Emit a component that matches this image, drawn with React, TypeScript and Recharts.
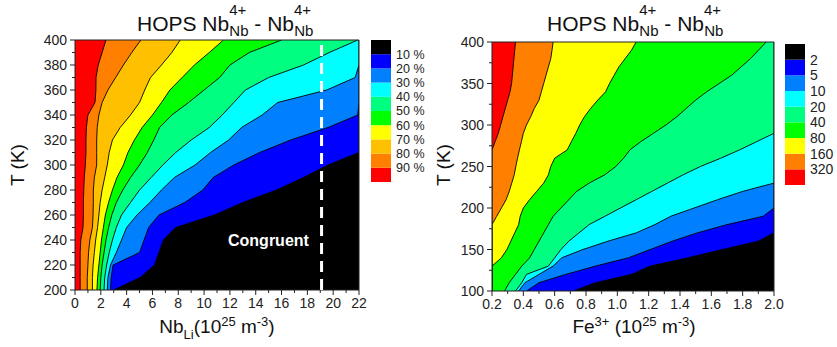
import React from 'react';
import {
  ComposedChart,
  Area,
  XAxis,
  YAxis,
  CartesianGrid,
  ReferenceLine,
  ReferenceArea,
  BarChart,
  Bar,
} from 'recharts';

const FONT = '"Liberation Sans", Arial, sans-serif';

// ---- left panel: Nb_Li position of each contour line for a given T ----
const tLeft = [200, 210, 220, 230, 240, 250, 260, 270, 280, 290, 300, 310, 320, 330, 340, 350, 360, 370, 380, 390, 400];
const nb90 = [0.4, 0.4, 0.4, 0.4, 0.45, 0.62, 0.65, 0.65, 0.68, 0.72, 0.8, 0.85, 0.85, 0.88, 1.0, 1.55, 1.62, 1.63, 1.8, 2.1, 2.4];
const nb80 = [0.95, 0.95, 1.0, 1.05, 1.15, 1.35, 1.4, 1.42, 1.42, 1.5, 1.68, 1.68, 1.68, 1.72, 1.85, 2.1, 2.55, 3.15, 3.75, 4.4, 5.1];
const nb70 = [1.35, 1.35, 1.4, 1.5, 1.6, 1.75, 1.85, 1.95, 2.1, 2.3, 2.5, 2.65, 2.9, 3.5, 4.3, 5.0, 5.4, 5.85, 6.7, 7.5, 8.15];
const nb60 = [1.7, 1.75, 1.85, 1.95, 2.05, 2.2, 2.35, 2.6, 2.9, 3.25, 3.75, 4.1, 4.6, 5.2, 6.0, 6.7, 7.35, 8.3, 9.25, 10.4, 11.5];
const nb50 = [1.95, 2.0, 2.1, 2.25, 2.4, 2.6, 2.85, 3.2, 3.7, 4.3, 5.0, 5.6, 6.1, 6.55, 7.5, 8.8, 10.0, 11.2, 12.0, 13.5, 16.0];
const nb40 = [2.25, 2.3, 2.45, 2.65, 2.9, 3.2, 3.6, 4.3, 5.0, 5.9, 6.8, 7.8, 9.0, 10.4, 11.4, 12.3, 13.2, 15.0, 17.7, 19.7, 21.9];
const nb30 = [2.5, 2.55, 2.75, 3.2, 3.6, 4.0, 4.8, 5.8, 6.7, 7.7, 9.3, 10.5, 11.9, 12.9, 14.5, 15.7, 19.5, 21.7, 22, 22, 22];
const nb20 = [2.75, 2.8, 2.95, 5.0, 5.35, 5.7, 6.5, 8.5, 9.9, 10.7, 12.3, 14.3, 16.7, 19.6, 21.9, 22, 22, 22, 22, 22, 22];
const nb10 = [3.0, 5.05, 6.15, 6.5, 6.85, 7.8, 10.8, 13.0, 15.6, 17.7, 19.6, 22, 22, 22, 22, 22, 22, 22, 22, 22, 22];

// ---- right panel: Fe3+ position of each contour line for a given T ----
const tRight = [100, 110, 120, 130, 140, 150, 160, 170, 180, 190, 200, 210, 220, 230, 240, 250, 260, 270, 280, 290, 300, 310, 320, 330, 340, 350, 360, 370, 380, 390, 400];
const fe320 = [0.2, 0.2, 0.2, 0.2, 0.2, 0.2, 0.2, 0.2, 0.2, 0.2, 0.2, 0.2, 0.2, 0.2, 0.2, 0.2, 0.2, 0.2, 0.22, 0.24, 0.255, 0.27, 0.285, 0.3, 0.315, 0.325, 0.33, 0.335, 0.34, 0.345, 0.35];
const fe160 = [0.2, 0.2, 0.2, 0.2, 0.2, 0.2, 0.2, 0.2, 0.2, 0.23, 0.26, 0.29, 0.31, 0.326, 0.342, 0.352, 0.363, 0.375, 0.388, 0.4, 0.42, 0.447, 0.47, 0.5, 0.515, 0.53, 0.545, 0.56, 0.575, 0.583, 0.59];
const fe80 = [0.2, 0.2, 0.2, 0.2, 0.26, 0.295, 0.32, 0.345, 0.37, 0.38, 0.4, 0.44, 0.485, 0.53, 0.56, 0.575, 0.6, 0.68, 0.707, 0.735, 0.76, 0.79, 0.83, 0.875, 0.925, 0.95, 0.98, 1.01, 1.05, 1.09, 1.12];
const fe40 = [0.28, 0.31, 0.35, 0.39, 0.44, 0.47, 0.5, 0.53, 0.56, 0.59, 0.64, 0.69, 0.74, 0.82, 0.92, 0.99, 1.04, 1.08, 1.15, 1.23, 1.31, 1.38, 1.44, 1.5, 1.57, 1.65, 1.73, 1.79, 1.85, 1.9, 1.95];
const fe20 = [0.35, 0.39, 0.42, 0.56, 0.6, 0.64, 0.69, 0.755, 0.82, 0.92, 1.02, 1.12, 1.22, 1.32, 1.42, 1.53, 1.66, 1.78, 1.89, 2.0, 2.0, 2.0, 2.0, 2.0, 2.0, 2.0, 2.0, 2.0, 2.0, 2.0, 2.0];
const fe10 = [0.37, 0.41, 0.5, 0.59, 0.645, 0.78, 0.94, 1.12, 1.24, 1.34, 1.49, 1.64, 1.8, 2.0, 2.0, 2.0, 2.0, 2.0, 2.0, 2.0, 2.0, 2.0, 2.0, 2.0, 2.0, 2.0, 2.0, 2.0, 2.0, 2.0, 2.0];
const fe5 = [0.42, 0.5, 0.67, 0.86, 1.07, 1.21, 1.35, 1.51, 1.7, 1.93, 2.0, 2.0, 2.0, 2.0, 2.0, 2.0, 2.0, 2.0, 2.0, 2.0, 2.0, 2.0, 2.0, 2.0, 2.0, 2.0, 2.0, 2.0, 2.0, 2.0, 2.0];
const fe2 = [0.72, 0.86, 1.09, 1.21, 1.45, 1.67, 1.9, 2.0, 2.0, 2.0, 2.0, 2.0, 2.0, 2.0, 2.0, 2.0, 2.0, 2.0, 2.0, 2.0, 2.0, 2.0, 2.0, 2.0, 2.0, 2.0, 2.0, 2.0, 2.0, 2.0, 2.0];

// ticks
const leftXMajor = [0, 2, 4, 6, 8, 10, 12, 14, 16, 18, 20, 22];
const leftXMinor = [1, 3, 5, 7, 9, 11, 13, 15, 17, 19, 21];
const leftYMajor = [200, 220, 240, 260, 280, 300, 320, 340, 360, 380, 400];
const leftYMinor = [210, 230, 250, 270, 290, 310, 330, 350, 370, 390];
const rightXMajor = [0.2, 0.4, 0.6, 0.8, 1.0, 1.2, 1.4, 1.6, 1.8, 2.0];
const rightXMinor = [0.3, 0.5, 0.7, 0.9, 1.1, 1.3, 1.5, 1.7, 1.9];
const rightYMajor = [100, 150, 200, 250, 300, 350, 400];
const rightYMinor = [125, 175, 225, 275, 325, 375];

// colour scales (bottom to top of the colour bar)
const leftColors = ['#FF0000', '#FF8000', '#FFC000', '#FFFF00', '#00FF00', '#00FF80', '#00FFFF', '#0080FF', '#0000FF', '#000000'];
const leftLevels = ['90 %', '80 %', '70 %', '60 %', '50 %', '40 %', '30 %', '20 %', '10 %'];
const rightColors = ['#FF0000', '#FF8000', '#FFFF00', '#00FF00', '#00FF80', '#00FFFF', '#0080FF', '#0000FF', '#000000'];
const rightLevels = ['320', '160', '80', '40', '20', '10', '5', '2'];

const leftLines = [nb10, nb20, nb30, nb40, nb50, nb60, nb70, nb80, nb90];
const rightLines = [fe2, fe5, fe10, fe20, fe40, fe80, fe160, fe320];

const leftData = tLeft.map((T, i) => {
  const row: any = { T };
  leftLines.forEach((arr, k) => (row['c' + k] = arr[i]));
  return row;
});
const rightData = tRight.map((T, i) => {
  const row: any = { T };
  rightLines.forEach((arr, k) => (row['c' + k] = arr[i]));
  return row;
});

const AxisTick = ({ x, y, payload, majors, side, fmt }: any) => {
  const major = majors.includes(payload.value);
  const len = major ? 5 : 3;
  if (side === 'bottom') {
    return (
      <g>
        <line x1={x} y1={y} x2={x} y2={y + len} stroke="#222" strokeWidth={1} />
        {major && (
          <text x={x} y={y + 18} textAnchor="middle" fontSize={14} fill="#222" fontFamily={FONT}>
            {fmt(payload.value)}
          </text>
        )}
      </g>
    );
  }
  return (
    <g>
      <line x1={x - len} y1={y} x2={x} y2={y} stroke="#222" strokeWidth={1} />
      {major && (
        <text x={x - 8} y={y + 5} textAnchor="end" fontSize={14} fill="#222" fontFamily={FONT}>
          {fmt(payload.value)}
        </text>
      )}
    </g>
  );
};

const ContourPanel = ({ data, xDomain, yDomain, xMajor, xMinor, yMajor, yMinor, xFmt, colors, nLines, margin, children }: any) => (
  <ComposedChart width={370} height={347} data={data} layout="vertical" margin={margin}>
    <CartesianGrid horizontal={false} vertical={false} fill="#000" />
    <XAxis
      type="number"
      domain={xDomain}
      allowDataOverflow
      ticks={[...xMajor, ...xMinor]}
      interval={0}
      height={30}
      tickSize={0}
      tickMargin={0}
      axisLine={false}
      tickLine={false}
      tick={(p: any) => <AxisTick {...p} majors={xMajor} side="bottom" fmt={xFmt} />}
    />
    <YAxis
      type="number"
      dataKey="T"
      domain={yDomain}
      reversed
      allowDataOverflow
      ticks={[...yMajor, ...yMinor]}
      interval={0}
      width={40}
      tickSize={0}
      tickMargin={0}
      axisLine={false}
      tickLine={false}
      tick={(p: any) => <AxisTick {...p} majors={yMajor} side="left" fmt={(v: number) => String(v)} />}
    />
    {Array.from({ length: nLines }).map((_, k) => (
      <Area
        key={k}
        type="linear"
        dataKey={'c' + k}
        baseValue={xDomain[0]}
        stroke="#000"
        strokeWidth={0.9}
        fill={colors[colors.length - 2 - k]}
        fillOpacity={1}
        dot={false}
        activeDot={false}
        isAnimationActive={false}
      />
    ))}
    {children}
    <ReferenceArea
      x1={xDomain[0]}
      x2={xDomain[1]}
      y1={yDomain[0]}
      y2={yDomain[1]}
      fill="none"
      fillOpacity={0}
      stroke="#222"
      strokeWidth={1}
    />
  </ComposedChart>
);

const ColorBar = ({ colors, levels, height, fontSize }: any) => {
  const row: any = { name: 'bar' };
  colors.forEach((_: string, i: number) => (row['s' + i] = 1));
  return (
    <BarChart width={75} height={height} data={[row]} margin={{ top: 0, right: 0, bottom: 0, left: 0 }} barCategoryGap={0} barGap={0}>
      <XAxis dataKey="name" hide />
      <YAxis
        orientation="right"
        type="number"
        domain={[0, colors.length]}
        ticks={levels.map((_: string, i: number) => i + 1)}
        interval={0}
        width={55}
        tickSize={0}
        tickMargin={5}
        axisLine={false}
        tickLine={false}
        tickFormatter={(v: number) => levels[v - 1]}
        tick={{ fontSize, fill: '#222', fontFamily: FONT }}
      />
      {colors.map((c: string, i: number) => (
        <Bar key={i} dataKey={'s' + i} stackId="a" fill={c} isAnimationActive={false} />
      ))}
    </BarChart>
  );
};

const rich = (parts: [string, string][], size: number, small: number) => {
  let cur = 0;
  return parts.map(([t, k], i) => {
    const target = k === 'sup' ? -size * 0.38 : k === 'sub' ? size * 0.3 : 0;
    const dy = target - cur;
    cur = target;
    return (
      <tspan key={i} dy={dy} fontSize={k ? small : size}>
        {t}
      </tspan>
    );
  });
};

const Title = ({ x }: { x: number }) => (
  <text x={x} y={31} fontSize={21} fill="#111" fontFamily={FONT} style={{ whiteSpace: 'pre' }}>
    HOPS Nb
    <tspan fontSize={15} dy={-16}>4+</tspan>
    <tspan fontSize={15} dx={-17} dy={21}>Nb</tspan>
    <tspan fontSize={21} dy={-5}>{' - Nb'}</tspan>
    <tspan fontSize={15} dy={-16}>4+</tspan>
    <tspan fontSize={15} dx={-17} dy={21}>Nb</tspan>
  </text>
);

export default function App() {
  return (
    <div style={{ position: 'absolute', left: 0, top: 0, width: 837, height: 347, background: '#fff', fontFamily: FONT }}>
      <div style={{ position: 'absolute', left: 0, top: 0 }}>
        <ContourPanel
          data={leftData}
          xDomain={[0, 22]}
          yDomain={[200, 400]}
          xMajor={leftXMajor}
          xMinor={leftXMinor}
          yMajor={leftYMajor}
          yMinor={leftYMinor}
          xFmt={(v: number) => String(v)}
          colors={leftColors}
          nLines={leftLines.length}
          margin={{ top: 40, right: 11, bottom: 27, left: 35 }}
        >
          <ReferenceLine x={19.1} stroke="#fff" strokeWidth={3} strokeDasharray="11 7" />
        </ContourPanel>
      </div>
      <div style={{ position: 'absolute', left: 420, top: 0 }}>
        <ContourPanel
          data={rightData}
          xDomain={[0.2, 2.0]}
          yDomain={[100, 400]}
          xMajor={rightXMajor}
          xMinor={rightXMinor}
          yMajor={rightYMajor}
          yMinor={rightYMinor}
          xFmt={(v: number) => v.toFixed(1)}
          colors={rightColors}
          nLines={rightLines.length}
          margin={{ top: 42, right: 16, bottom: 26, left: 32 }}
        />
      </div>
      <div style={{ position: 'absolute', left: 371, top: 40 }}>
        <ColorBar colors={leftColors} levels={leftLevels} height={142} fontSize={12.5} />
      </div>
      <div style={{ position: 'absolute', left: 785, top: 44 }}>
        <ColorBar colors={rightColors} levels={rightLevels} height={141} fontSize={14} />
      </div>
      <div
        style={{
          position: 'absolute',
          left: 228,
          top: 231,
          color: '#fff',
          fontWeight: 'bold',
          fontSize: 16,
          fontFamily: FONT,
          lineHeight: '20px',
        }}
      >
        Congruent
      </div>
      <svg width={837} height={347} style={{ position: 'absolute', left: 0, top: 0, pointerEvents: 'none' }}>
        <Title x={137} />
        <Title x={547} />
        <text transform="translate(24,165) rotate(-90)" textAnchor="middle" fontSize={19} fill="#111" fontFamily={FONT}>
          T (K)
        </text>
        <text transform="translate(450,165) rotate(-90)" textAnchor="middle" fontSize={19} fill="#111" fontFamily={FONT}>
          T (K)
        </text>
        <text x={217} y={333} textAnchor="middle" fill="#111" fontFamily={FONT} style={{ whiteSpace: 'pre' }}>
          {rich(
            [
              ['Nb', ''],
              ['Li', 'sub'],
              ['(10', ''],
              ['25', 'sup'],
              [' m', ''],
              ['-3', 'sup'],
              [')', ''],
            ],
            19,
            13,
          )}
        </text>
        <text x={634} y={333} textAnchor="middle" fill="#111" fontFamily={FONT} style={{ whiteSpace: 'pre' }}>
          {rich(
            [
              ['Fe', ''],
              ['3+', 'sup'],
              [' (10', ''],
              ['25', 'sup'],
              [' m', ''],
              ['-3', 'sup'],
              [')', ''],
            ],
            19,
            13,
          )}
        </text>
      </svg>
    </div>
  );
}
